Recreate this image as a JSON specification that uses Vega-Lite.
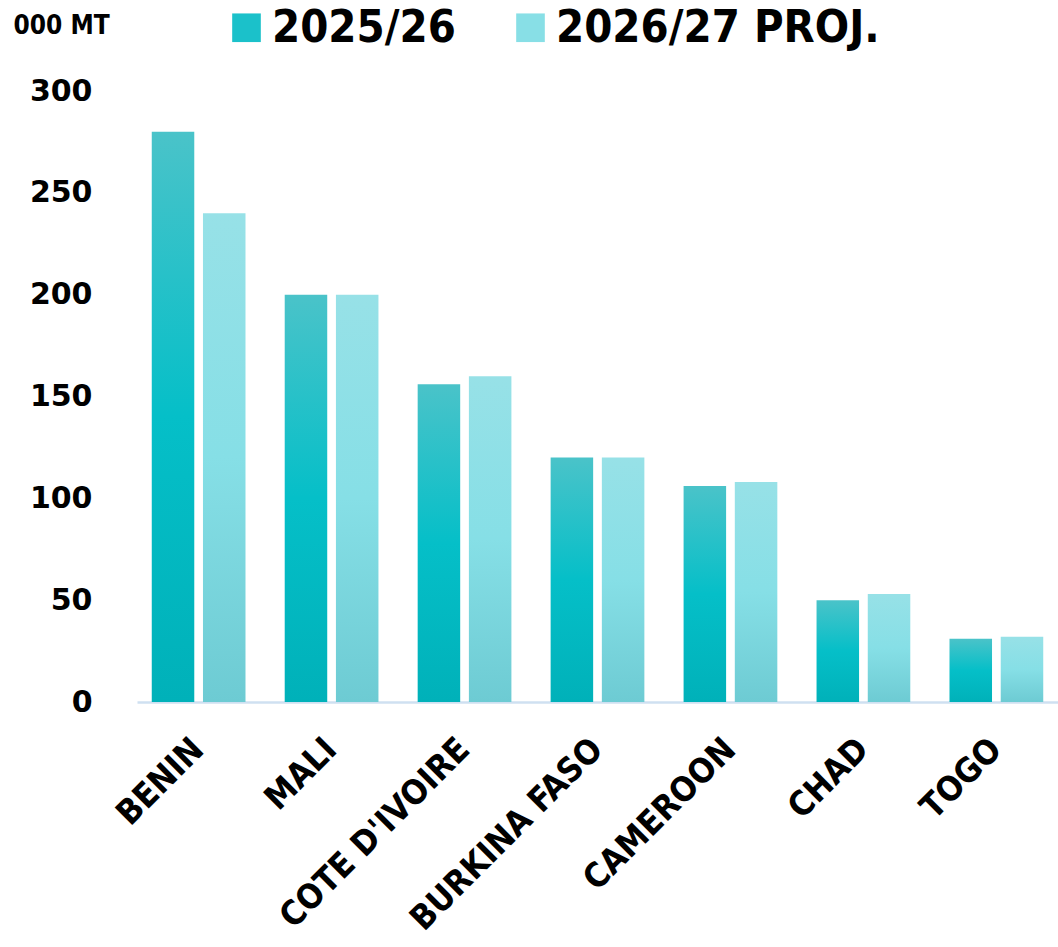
{
  "$schema": "https://vega.github.io/schema/vega-lite/v6.json",
  "width": 921,
  "height": 611,
  "autosize": "none",
  "padding": {"left": 137, "top": 91, "right": 0, "bottom": 245},
  "background": "white",
  "config": {"view": {"stroke": null}, "font": "DejaVu Sans"},
  "data": {
    "values": [
      {"country": "BENIN", "season": "2025/26", "value": 280},
      {"country": "BENIN", "season": "2026/27 PROJ.", "value": 240},
      {"country": "MALI", "season": "2025/26", "value": 200},
      {"country": "MALI", "season": "2026/27 PROJ.", "value": 200},
      {"country": "COTE D'IVOIRE", "season": "2025/26", "value": 156},
      {"country": "COTE D'IVOIRE", "season": "2026/27 PROJ.", "value": 160},
      {"country": "BURKINA FASO", "season": "2025/26", "value": 120},
      {"country": "BURKINA FASO", "season": "2026/27 PROJ.", "value": 120},
      {"country": "CAMEROON", "season": "2025/26", "value": 106},
      {"country": "CAMEROON", "season": "2026/27 PROJ.", "value": 108},
      {"country": "CHAD", "season": "2025/26", "value": 50},
      {"country": "CHAD", "season": "2026/27 PROJ.", "value": 53},
      {"country": "TOGO", "season": "2025/26", "value": 31},
      {"country": "TOGO", "season": "2026/27 PROJ.", "value": 32}
    ]
  },
  "encoding": {
    "x": {
      "field": "country",
      "type": "nominal",
      "sort": null,
      "scale": {"paddingInner": 0.295, "paddingOuter": 0.111},
      "axis": {
        "title": null,
        "labelAngle": -45,
        "labelAlign": "right",
        "labelBaseline": "middle",
        "labelFont": "DejaVu Sans Condensed",
        "labelFontWeight": "bold",
        "labelFontSize": 34,
        "labelColor": "black",
        "labelPadding": 42,
        "labelLimit": 500,
        "labelOverlap": false,
        "ticks": false,
        "domainColor": "#CFE0F1",
        "domainWidth": 2.5
      }
    },
    "xOffset": {
      "field": "season",
      "type": "nominal",
      "scale": {"paddingInner": 0.17}
    },
    "y": {
      "field": "value",
      "type": "quantitative",
      "scale": {"domain": [0, 300], "nice": false},
      "axis": {
        "values": [0, 50, 100, 150, 200, 250, 300],
        "grid": false,
        "domain": false,
        "ticks": false,
        "labelFont": "DejaVu Sans",
        "labelFontWeight": "bold",
        "labelFontSize": 30,
        "labelColor": "black",
        "labelPadding": 45,
        "title": "000 MT",
        "titleAngle": 0,
        "titleAlign": "left",
        "titleBaseline": "middle",
        "titleX": -124,
        "titleY": -66,
        "titleFont": "DejaVu Sans Condensed",
        "titleFontWeight": "bold",
        "titleFontSize": 26,
        "titleColor": "black"
      }
    }
  },
  "layer": [
    {
      "mark": {"type": "bar"},
      "encoding": {
        "color": {
          "condition": {
            "test": "datum.season === '2025/26'",
            "value": {"gradient": "linear", "x1": 0, "y1": 0, "x2": 0, "y2": 1,
              "stops": [{"offset": 0, "color": "#4AC3C9"}, {"offset": 0.5, "color": "#05BFC8"}, {"offset": 1, "color": "#00B1B9"}]}
          },
          "value": {"gradient": "linear", "x1": 0, "y1": 0, "x2": 0, "y2": 1,
            "stops": [{"offset": 0, "color": "#97E1E7"}, {"offset": 0.5, "color": "#86DFE6"}, {"offset": 1, "color": "#6DCBD3"}]}
        }
      }
    },
    {
      "mark": {"type": "square", "opacity": 0},
      "encoding": {
        "color": {
          "field": "season",
          "type": "nominal",
          "scale": {"domain": ["2025/26", "2026/27 PROJ."], "range": ["#1BC1CA", "#88DFE6"]},
          "legend": {
            "title": null,
            "orient": "none",
            "direction": "horizontal",
            "legendX": 87,
            "legendY": -86,
            "symbolType": "square",
            "symbolSize": 820,
            "symbolOpacity": 1,
            "symbolStrokeWidth": 0,
            "labelFont": "DejaVu Sans Condensed",
            "labelFontWeight": "bold",
            "labelFontSize": 45,
            "labelColor": "black",
            "labelOffset": 3,
            "columnPadding": 52,
            "labelLimit": 500
          }
        }
      }
    }
  ]
}
